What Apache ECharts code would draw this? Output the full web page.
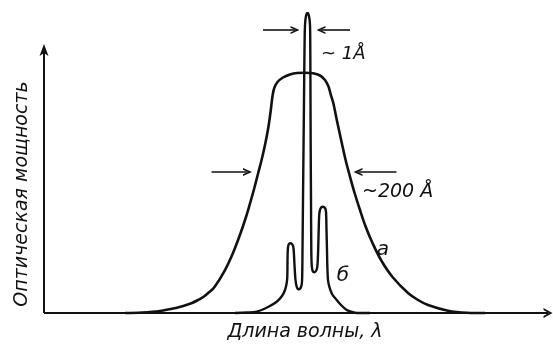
<!DOCTYPE html>
<html>
<head>
<meta charset="utf-8">
<script src="https://cdn.jsdelivr.net/npm/echarts@6/dist/echarts.min.js"></script>
<style>
  html, body { margin: 0; padding: 0; background: #fff; }
  #chart { width: 553px; height: 347px; }
</style>
</head>
<body>
<div id="chart"></div>
<script>
// Broad spontaneous-emission band (curve "а"): [wavelength, power], arbitrary units
const curveA = [
  [16.2, 0], [19.6, 0.17], [23.2, 0.67], [26.4, 1.67], [28, 2.4], [29.6, 3.33],
  [30.8, 4.33], [32, 5.5], [33, 6.9], [34.1, 8.67], [36.2, 14.33], [37.8, 20],
  [39.32, 26.67], [40.4, 32], [41.4, 37.67], [42.12, 42], [42.84, 46.67],
  [43.52, 51], [44.28, 56.67], [44.88, 62], [45.36, 67.67], [45.7, 72.3],
  [46.05, 75], [46.7, 77], [47.8, 78.5], [49.2, 79.5], [50.6, 80], [52.2, 80.1],
  [53.8, 79.9], [55.2, 79.17], [56.2, 77.67], [56.9, 75.5], [57.35, 72.8],
  [57.86, 70], [58.56, 64.33], [59.56, 56.67], [60.32, 51], [61, 46.67],
  [62.12, 40], [63.2, 34.33], [64.36, 28.67], [65.7, 23.33], [67.4, 17.67],
  [69.7, 12], [72.8, 6.67], [74.8, 4.33], [76.8, 2.67], [80.8, 0.77],
  [84.6, 0.1], [88.2, 0]
];

// Narrow laser line with side modes (curve "б")
const curveB = [
  [38.2, 0], [40.6, 0.17], [42.54, 0.43], [44.8, 2], [46.54, 3.77], [47.6, 5.67],
  [48.2, 7.67], [48.54, 10], [48.66, 12.1], [48.7, 17], [48.76, 21],
  [48.9, 22.67], [49.2, 23.23], [49.6, 23], [49.86, 22.1], [50, 19.33],
  [50.1, 16], [50.3, 11], [50.54, 8.77], [50.86, 7.9], [51.26, 8.17],
  [51.56, 9.67], [51.66, 14.33], [51.7, 21], [51.8, 37.7], [51.9, 54.3],
  [52, 71], [52.1, 87.7], [52.2, 96], [52.4, 99], [52.7, 100], [53, 99],
  [53.2, 96], [53.26, 87.7], [53.3, 71], [53.34, 54.3], [53.4, 37.7],
  [53.46, 21], [53.54, 16], [53.7, 14.17], [54.06, 13.57], [54.46, 14.17],
  [54.66, 15.43], [54.8, 19.33], [54.94, 27.67], [55.06, 33], [55.3, 34.83],
  [55.74, 35.43], [56.2, 35], [56.4, 33.77], [56.5, 27.67], [56.6, 21],
  [56.66, 16], [56.8, 11], [57.06, 8.77], [57.6, 6.33], [58.54, 4.33],
  [59.4, 2.67], [60.54, 1], [61.6, 0.33], [62.6, 0], [65.2, 0]
];

// Width markers: [from, to] pairs, arrowhead at "to"
const widthArrowsNarrow = [
  [[43.8, 94.3], [50.2, 94.3]],
  [[61.2, 94.3], [55.4, 94.3]]
];
const widthArrowsBroad = [
  [[33.5, 47], [40.7, 47]],
  [[70.5, 47], [62.8, 47]]
];

// Axis extents with arrowheads
const yAxisArrow = [[0, 0], [0, 87.7]];
const xAxisArrow = [[0, 0], [100.8, 0]];

const labelNarrow = '~ 1Å';
const labelBroad = '~200 Å';
const labelA = 'а';
const labelB = 'б';
const xTitle = 'Длина волны, λ';
const yTitle = 'Оптическая мощность';

const FONT = '"DejaVu Sans", sans-serif';
const INK = '#111';

// Open chevron arrowhead pointing up (rotated along the line by ECharts)
const chevron = 'path://M0,10 L5,0 L10,10 L7.9,10 L5,4.2 L2.1,10 Z';
const spearhead = 'path://M5,0 L10,12 L5,9 L0,12 Z';

function arrowData(list) {
  return list.map(p => [{ coord: p[0] }, { coord: p[1] }]);
}

const chart = echarts.init(document.getElementById('chart'), null, { renderer: 'canvas' });

chart.setOption({
  backgroundColor: '#fff',
  animation: false,
  grid: { left: 44, top: 13, width: 509, height: 300 },
  xAxis: {
    type: 'value', min: 0, max: 101.8,
    axisLine: { show: false }, axisTick: { show: false },
    axisLabel: { show: false }, splitLine: { show: false }
  },
  yAxis: {
    type: 'value', min: 0, max: 100,
    axisLine: { show: false }, axisTick: { show: false },
    axisLabel: { show: false }, splitLine: { show: false }
  },
  series: [
    {
      name: 'а',
      type: 'line',
      data: curveA,
      smooth: 0.35,
      symbol: 'none',
      clip: false,
      lineStyle: { color: INK, width: 2.6 },
      z: 3,
      markLine: {
        silent: true,
        symbol: ['none', chevron],
        symbolSize: [8, 9],
        label: { show: false },
        lineStyle: { color: INK, width: 1.6, type: 'solid' },
        data: arrowData(widthArrowsNarrow.concat(widthArrowsBroad))
      }
    },
    {
      name: 'б',
      type: 'line',
      data: curveB,
      smooth: 0.3,
      symbol: 'none',
      clip: false,
      lineStyle: { color: INK, width: 2.4 },
      z: 3,
      markLine: {
        silent: true,
        symbol: ['none', spearhead],
        symbolSize: [9, 12],
        label: { show: false },
        lineStyle: { color: INK, width: 2, type: 'solid' },
        data: arrowData([yAxisArrow])
      }
    },
    {
      name: 'axis',
      type: 'line',
      data: [],
      markLine: {
        silent: true,
        symbol: ['none', chevron],
        symbolSize: [10, 9],
        label: { show: false },
        lineStyle: { color: INK, width: 2, type: 'solid' },
        data: arrowData([xAxisArrow])
      }
    }
  ],
  graphic: [
    {
      type: 'text', x: 321, y: 54,
      style: { text: labelNarrow, font: 'italic 18px ' + FONT, fill: INK,
               textAlign: 'left', textVerticalAlign: 'middle' }
    },
    {
      type: 'text', x: 362, y: 192,
      style: { text: labelBroad, font: 'italic 19px ' + FONT, fill: INK,
               textAlign: 'left', textVerticalAlign: 'middle' }
    },
    {
      type: 'text', x: 383, y: 250,
      style: { text: labelA, font: 'italic 20px ' + FONT, fill: INK,
               textAlign: 'center', textVerticalAlign: 'middle' }
    },
    {
      type: 'text', x: 343, y: 276,
      style: { text: labelB, font: 'italic 20px ' + FONT, fill: INK,
               textAlign: 'center', textVerticalAlign: 'middle' }
    },
    {
      type: 'text', x: 305, y: 332,
      style: { text: xTitle, font: 'italic 19px ' + FONT, fill: INK,
               textAlign: 'center', textVerticalAlign: 'middle' }
    },
    {
      type: 'text', x: 22, y: 194, rotation: Math.PI / 2,
      style: { text: yTitle, font: 'italic 19px ' + FONT, fill: INK,
               textAlign: 'center', textVerticalAlign: 'middle' }
    }
  ]
});
</script>
</body>
</html>
